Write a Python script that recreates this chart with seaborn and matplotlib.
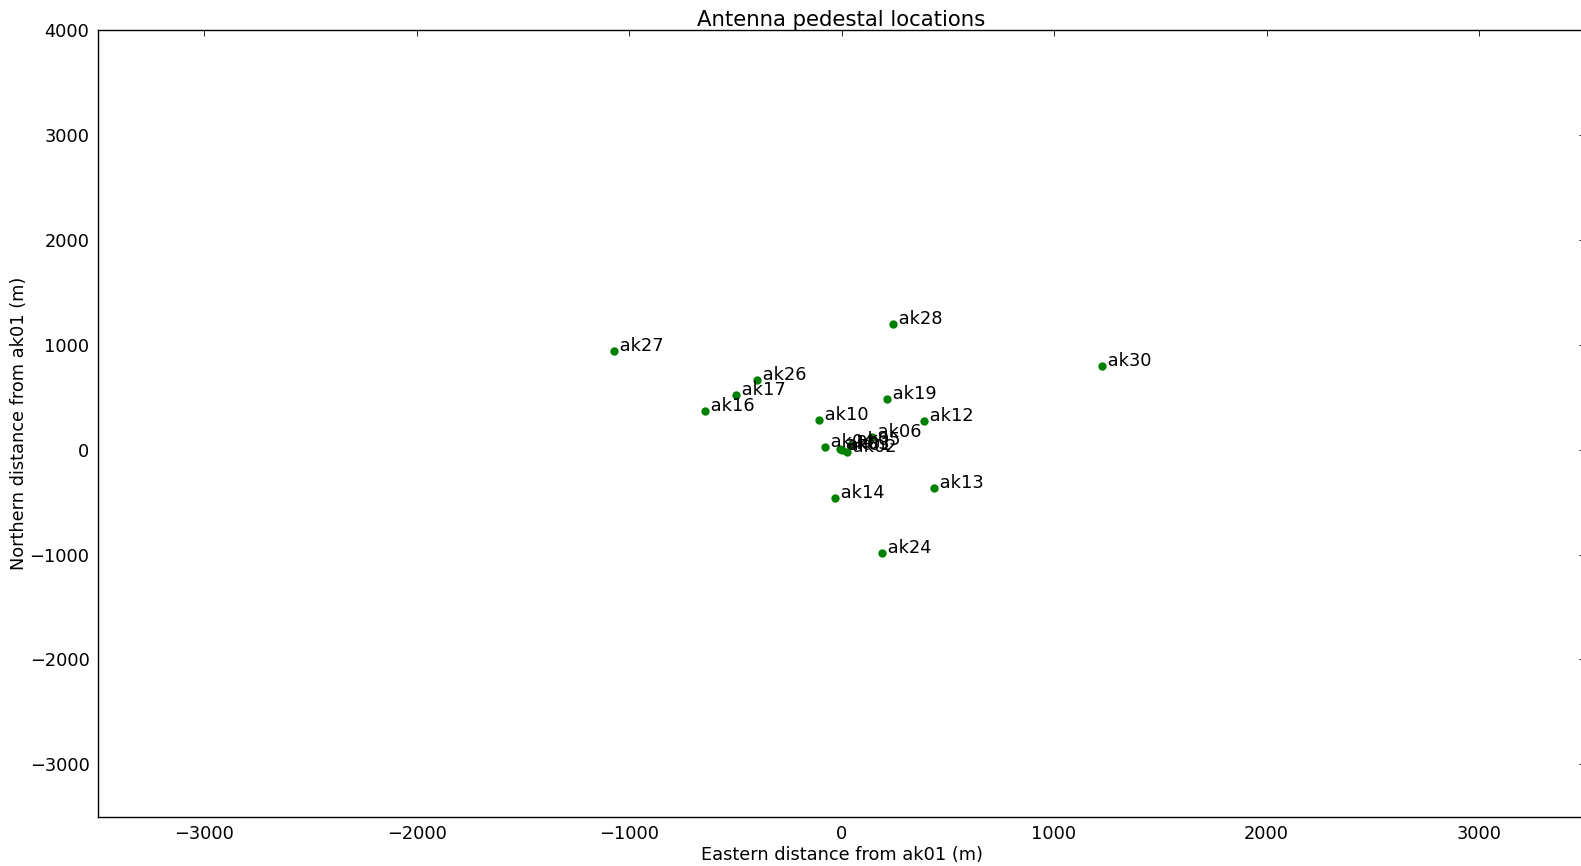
import matplotlib
matplotlib.use("Agg")
import matplotlib.pyplot as plt
import seaborn as sns
import pandas as pd

names = ["ak01", "ak02", "ak03", "ak04", "ak05", "ak06", "ak10", "ak12", "ak13",
         "ak14", "ak16", "ak17", "ak19", "ak24", "ak26", "ak27", "ak28", "ak30"]
east = [0, 24, -9, -80, 45, 142, -104, 389, 437,
        -33, -641, -498, 214, 190, -399, -1073, 242, 1224]
north = [0, -22, 7, 26, 40, 125, 279, 269, -365,
         -462, 365, 519, 481, -981, 663, 942, 1202, 798]

xticks = [-3000, -2000, -1000, 0, 1000, 2000, 3000]
yticks = [-3000, -2000, -1000, 0, 1000, 2000, 3000, 4000]

df = pd.DataFrame({"east": east, "north": north, "name": names})

sns.set_style("white")
plt.rcParams['font.family'] = ['DejaVu Sans']
plt.rcParams['text.color'] = 'black'
plt.rcParams['axes.labelcolor'] = 'black'
plt.rcParams['xtick.color'] = 'black'
plt.rcParams['ytick.color'] = 'black'

fig = plt.figure(figsize=(15.81, 8.66), dpi=100)
ax = fig.add_axes([0.0619, 0.0569, 0.9408, 0.9082])
sns.scatterplot(data=df, x="east", y="north", color="green", s=36,
                linewidth=0, ax=ax, zorder=3)
for e, n, nm in zip(east, north, names):
    ax.text(e, n, " " + nm, fontsize=12.8, va="baseline", ha="left", color="black")

ax.set_xlim(-3500, 3500)
ax.set_ylim(-3500, 4000)
ax.set_xticks(xticks)
ax.set_yticks(yticks)
ax.set_xticklabels(["\u2212" + str(abs(v)) if v < 0 else str(v) for v in xticks])
ax.set_yticklabels(["\u2212" + str(abs(v)) if v < 0 else str(v) for v in yticks])
ax.tick_params(axis="both", which="major", direction="in", length=4, width=0.6,
               top=True, right=True, labelsize=12.8, colors="black", pad=6)
for sp in ax.spines.values():
    sp.set_visible(True)
    sp.set_color("black")
    sp.set_linewidth(1.0)
ax.set_xlabel("Eastern distance from ak01 (m)", fontsize=12.8, labelpad=2, color="black")
ax.set_ylabel("Northern distance from ak01 (m)", fontsize=12.8, labelpad=1, color="black")
ax.set_title("Antenna pedestal locations", fontsize=15.3, pad=3, color="black")

fig.savefig("out.png", dpi=100)
